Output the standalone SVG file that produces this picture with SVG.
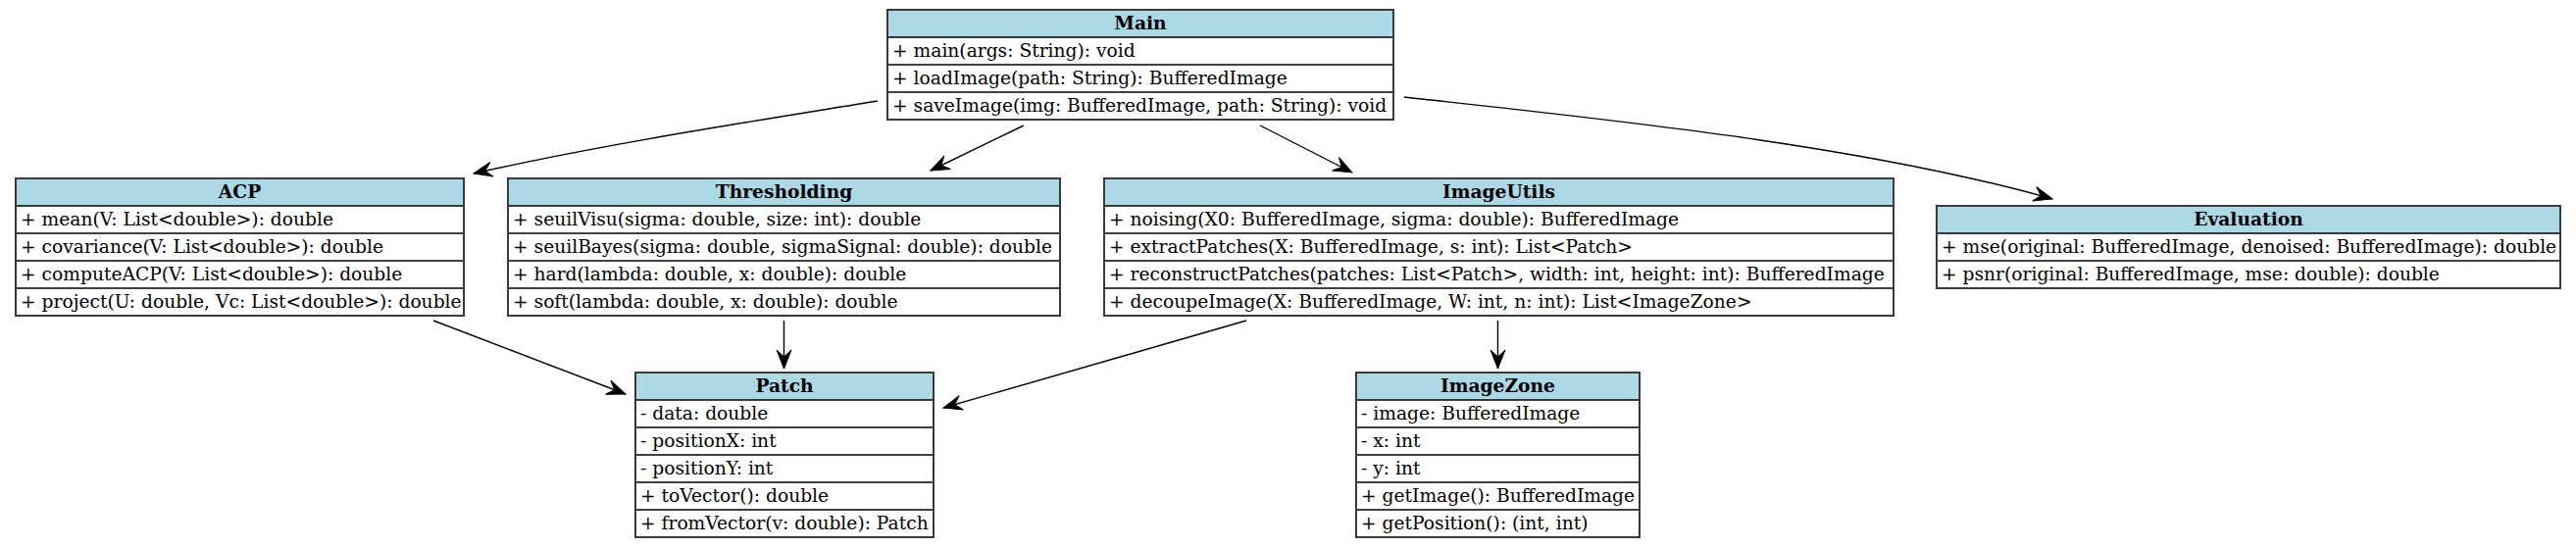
<svg xmlns="http://www.w3.org/2000/svg" width="2627" height="559" viewBox="0 0 2627 559">
<defs>
<style>
.bg{fill:#ffffff}
.hdr{fill:#add8e6}
.box{fill:none;stroke:#3a3a3a;stroke-width:2}
.sep{stroke:#000000;stroke-width:1.4}
text{font-family:"DejaVu Serif","Liberation Serif",serif;font-size:18.67px;fill:#000000}
.title{font-weight:bold;text-anchor:middle}
.edge{fill:none;stroke:#000000;stroke-width:1.4}
</style>
<marker id="vee" markerUnits="userSpaceOnUse" markerWidth="24" markerHeight="20" viewBox="-21 -10 24 20" refX="0" refY="0" orient="auto">
<path d="M0,0 L-19,-7.5 L-12,0 L-19,7.5 Z" fill="#000000" stroke="#000000" stroke-width="1"/>
</marker>
</defs>
<rect width="2627" height="559" fill="#ffffff"/>

<g id="connectors">
<path class="edge" marker-end="url(#vee)" d="M895,103 C760,125 610,148 483,177"/>
<path class="edge" marker-end="url(#vee)" d="M1044,128 L949,174"/>
<path class="edge" marker-end="url(#vee)" d="M1285,128 L1379,176"/>
<path class="edge" marker-end="url(#vee)" d="M1432,99 C1640,122 1900,148 2093,203"/>
<path class="edge" marker-end="url(#vee)" d="M442,327 L638,402"/>
<path class="edge" marker-end="url(#vee)" d="M799.5,327 L799.5,376"/>
<path class="edge" marker-end="url(#vee)" d="M1271,327 L962,416"/>
<path class="edge" marker-end="url(#vee)" d="M1527.5,327 L1527.5,376"/>
</g>

<g id="Main">
<rect class="bg" x="905" y="10" width="516" height="112"/>
<rect class="hdr" x="905" y="10" width="516" height="28"/>
<line class="sep" x1="905" y1="38" x2="1421" y2="38"/>
<line class="sep" x1="905" y1="66" x2="1421" y2="66"/>
<line class="sep" x1="905" y1="94" x2="1421" y2="94"/>
<rect class="box" x="905" y="10" width="516" height="112"/>
<text class="title" x="1163" y="30">Main</text>
<text x="910" y="58">+ main(args: String): void</text>
<text x="910" y="86">+ loadImage(path: String): BufferedImage</text>
<text x="910" y="114">+ saveImage(img: BufferedImage, path: String): void</text>
</g>

<g id="ACP">
<rect class="bg" x="16" y="182" width="457" height="140"/>
<rect class="hdr" x="16" y="182" width="457" height="28"/>
<line class="sep" x1="16" y1="210" x2="473" y2="210"/>
<line class="sep" x1="16" y1="238" x2="473" y2="238"/>
<line class="sep" x1="16" y1="266" x2="473" y2="266"/>
<line class="sep" x1="16" y1="294" x2="473" y2="294"/>
<rect class="box" x="16" y="182" width="457" height="140"/>
<text class="title" x="244.5" y="202">ACP</text>
<text x="21" y="230">+ mean(V: List&lt;double&gt;): double</text>
<text x="21" y="258">+ covariance(V: List&lt;double&gt;): double</text>
<text x="21" y="286">+ computeACP(V: List&lt;double&gt;): double</text>
<text x="21" y="314">+ project(U: double, Vc: List&lt;double&gt;): double</text>
</g>

<g id="Thresholding">
<rect class="bg" x="518" y="182" width="563" height="140"/>
<rect class="hdr" x="518" y="182" width="563" height="28"/>
<line class="sep" x1="518" y1="210" x2="1081" y2="210"/>
<line class="sep" x1="518" y1="238" x2="1081" y2="238"/>
<line class="sep" x1="518" y1="266" x2="1081" y2="266"/>
<line class="sep" x1="518" y1="294" x2="1081" y2="294"/>
<rect class="box" x="518" y="182" width="563" height="140"/>
<text class="title" x="799.5" y="202">Thresholding</text>
<text x="523" y="230">+ seuilVisu(sigma: double, size: int): double</text>
<text x="523" y="258">+ seuilBayes(sigma: double, sigmaSignal: double): double</text>
<text x="523" y="286">+ hard(lambda: double, x: double): double</text>
<text x="523" y="314">+ soft(lambda: double, x: double): double</text>
</g>

<g id="ImageUtils">
<rect class="bg" x="1126" y="182" width="805" height="140"/>
<rect class="hdr" x="1126" y="182" width="805" height="28"/>
<line class="sep" x1="1126" y1="210" x2="1931" y2="210"/>
<line class="sep" x1="1126" y1="238" x2="1931" y2="238"/>
<line class="sep" x1="1126" y1="266" x2="1931" y2="266"/>
<line class="sep" x1="1126" y1="294" x2="1931" y2="294"/>
<rect class="box" x="1126" y="182" width="805" height="140"/>
<text class="title" x="1528.5" y="202">ImageUtils</text>
<text x="1131" y="230">+ noising(X0: BufferedImage, sigma: double): BufferedImage</text>
<text x="1131" y="258">+ extractPatches(X: BufferedImage, s: int): List&lt;Patch&gt;</text>
<text x="1131" y="286">+ reconstructPatches(patches: List&lt;Patch&gt;, width: int, height: int): BufferedImage</text>
<text x="1131" y="314">+ decoupeImage(X: BufferedImage, W: int, n: int): List&lt;ImageZone&gt;</text>
</g>

<g id="Evaluation">
<rect class="bg" x="1975" y="210" width="636" height="84"/>
<rect class="hdr" x="1975" y="210" width="636" height="28"/>
<line class="sep" x1="1975" y1="238" x2="2611" y2="238"/>
<line class="sep" x1="1975" y1="266" x2="2611" y2="266"/>
<rect class="box" x="1975" y="210" width="636" height="84"/>
<text class="title" x="2293" y="230">Evaluation</text>
<text x="1980" y="258">+ mse(original: BufferedImage, denoised: BufferedImage): double</text>
<text x="1980" y="286">+ psnr(original: BufferedImage, mse: double): double</text>
</g>

<g id="Patch">
<rect class="bg" x="648" y="380" width="304" height="168"/>
<rect class="hdr" x="648" y="380" width="304" height="28"/>
<line class="sep" x1="648" y1="408" x2="952" y2="408"/>
<line class="sep" x1="648" y1="436" x2="952" y2="436"/>
<line class="sep" x1="648" y1="464" x2="952" y2="464"/>
<line class="sep" x1="648" y1="492" x2="952" y2="492"/>
<line class="sep" x1="648" y1="520" x2="952" y2="520"/>
<rect class="box" x="648" y="380" width="304" height="168"/>
<text class="title" x="800" y="400">Patch</text>
<text x="653" y="428">- data: double</text>
<text x="653" y="456">- positionX: int</text>
<text x="653" y="484">- positionY: int</text>
<text x="653" y="512">+ toVector(): double</text>
<text x="653" y="540">+ fromVector(v: double): Patch</text>
</g>

<g id="ImageZone">
<rect class="bg" x="1383" y="380" width="289" height="168"/>
<rect class="hdr" x="1383" y="380" width="289" height="28"/>
<line class="sep" x1="1383" y1="408" x2="1672" y2="408"/>
<line class="sep" x1="1383" y1="436" x2="1672" y2="436"/>
<line class="sep" x1="1383" y1="464" x2="1672" y2="464"/>
<line class="sep" x1="1383" y1="492" x2="1672" y2="492"/>
<line class="sep" x1="1383" y1="520" x2="1672" y2="520"/>
<rect class="box" x="1383" y="380" width="289" height="168"/>
<text class="title" x="1527.5" y="400">ImageZone</text>
<text x="1388" y="428">- image: BufferedImage</text>
<text x="1388" y="456">- x: int</text>
<text x="1388" y="484">- y: int</text>
<text x="1388" y="512">+ getImage(): BufferedImage</text>
<text x="1388" y="540">+ getPosition(): (int, int)</text>
</g>
</svg>
